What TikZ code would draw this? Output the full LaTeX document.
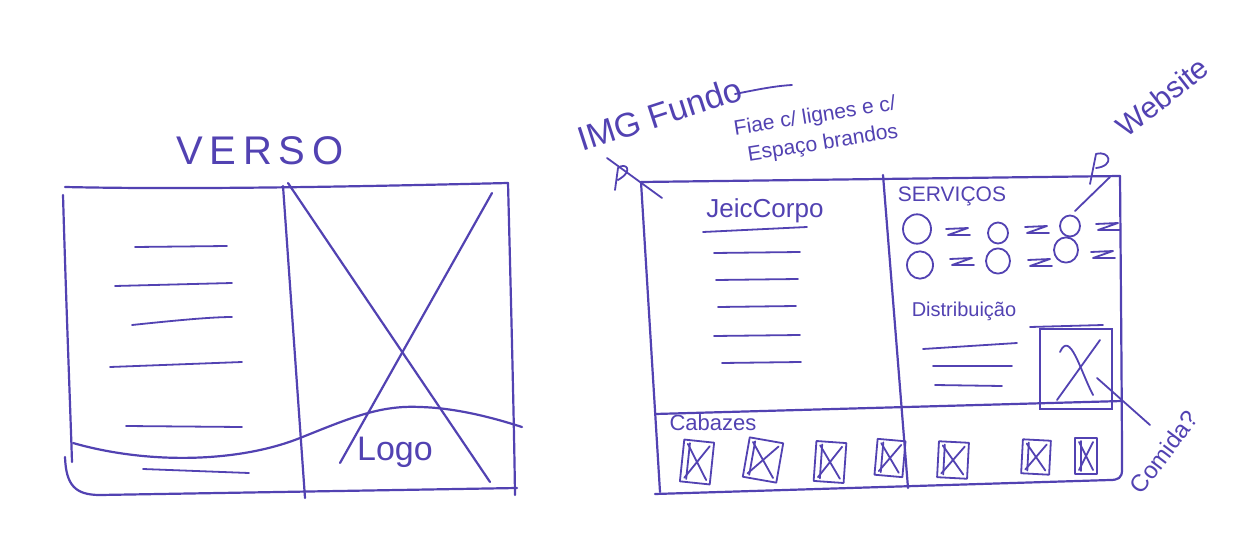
\documentclass[tikz,border=0pt]{standalone}
\usepackage{fontspec}
\setmainfont{Liberation Sans}
\definecolor{ink}{RGB}{82,66,178}
\begin{document}
\begin{tikzpicture}[x=1pt,y=-1pt,
  pen/.style={draw=ink,line width=2.2pt,line cap=round,line join=round},
  thin/.style={draw=ink,line width=1.8pt,line cap=round,line join=round},
  hand/.style={text=ink,inner sep=0pt,font=\fontsize{#1}{#1}\selectfont},
  hand/.default=22,
]
\fill[white] (0,0) rectangle (1246,556);
\useasboundingbox (0,0) rectangle (1246,556);

% ================= LEFT: VERSO =================
\node[hand=40] (verso) at (260,151) {V\,E\,R\,S\,O};
\coordinate (lTL) at (65,187);
\coordinate (lTR) at (508,183);
\draw[pen] (lTL) .. controls (200,190) and (380,186) .. (lTR);
\draw[pen] (63,195) .. controls (66,300) and (70,400) .. (72,462);
\draw[pen] (lTR) .. controls (511,300) and (514,420) .. (515,495);
\draw[pen] (65,457) .. controls (66,485) and (75,495) .. (100,495) -- (517,488);
\draw[pen] (283,186) -- (305,498);
% cross
\draw[pen] (288,183) -- (490,482);
\draw[pen] (492,193) -- (340,463);
% wave
\draw[pen] (73,443) .. controls (150,465) and (240,462) .. (300,438)
  .. controls (350,418) and (380,405) .. (420,407) .. controls (460,408) and (500,420) .. (522,427);
% text lines
\draw[thin] (135,247) -- (227,246);
\draw[thin] (115,286) -- (232,283);
\draw[thin] (132,325) .. controls (170,321) and (210,317) .. (232,317);
\draw[thin] (110,367) -- (242,362);
\draw[thin] (126,426) -- (242,427);
\draw[thin] (143,469) -- (249,473);
\node[hand=34] (logo) at (395,452) {Logo};

% ================= RIGHT =================
\node[hand=34,rotate=18] (img) at (660,114) {IMG Fundo};
\draw[thin] (735,94) .. controls (760,89) and (775,86) .. (792,85);
\node[hand=21,rotate=9] (fiae1) at (815,117) {Fiae c/ lignes e c/};
\node[hand=21,rotate=9] (fiae2) at (823,144) {Espaço brandos};
% pointer at top-left corner
\coordinate (pinA) at (607,158);
\coordinate (pinB) at (662,198);
\draw[thin] (pinA) -- (pinB);
\draw[thin] (615,190) -- (618,168) .. controls (625,162) and (635,170) .. (618,180);

% outer frame
\coordinate (rTL) at (641,182);
\coordinate (rTR) at (1120,176);
\draw[pen] (rTL) -- (rTR);
\draw[pen] (rTL) -- (660,492);
\draw[pen] (rTR) .. controls (1121,300) and (1122,420) .. (1122,470) .. controls (1122,478) and (1118,480) .. (1110,480) -- (655,494);
\draw[pen] (883,175) -- (908,488);
\draw[pen] (655,414) -- (1122,401);

% JeicCorpo column
\node[hand=26] (jeic) at (765,211) {JeicCorpo};
\draw[thin] (703,232) -- (807,227);
\draw[thin] (714,253) -- (800,252);
\draw[thin] (716,280) -- (798,279);
\draw[thin] (718,307) -- (796,306);
\draw[thin] (714,336) -- (800,335);
\draw[thin] (722,363) -- (801,362);

% Servicos
\node[hand=21] (serv) at (952,196) {SERVIÇOS};
\foreach \cx/\cy/\r in {917/229/14, 998/233/10, 1070/226/10, 920/265/13, 998/261/12, 1066/250/12}{
  \draw[thin] (\cx,\cy) ellipse ({\r} and {\r*1.05});
}
\foreach \zx/\zy in {958/232, 1037/230, 1108/227, 962/262, 1040/263, 1103/255}{
  \draw[thin] (\zx-12,\zy-3) -- (\zx+10,\zy-4) -- (\zx-10,\zy+3) -- (\zx+12,\zy+3);
}
% website
\node[hand=30,rotate=38] (web) at (1162,97) {Website};
\coordinate (webpin) at (1110,177);
\coordinate (webtgt) at (1075,211);
\draw[thin] (1090,184) -- (1096,154) .. controls (1110,150) and (1115,166) .. (1096,168);
\draw[thin] (webpin) -- (webtgt);

% Distribuicao
\node[hand=20] (dist) at (964,311) {Distribuição};
\draw[thin] (923,349) -- (1017,343);
\draw[thin] (933,366) -- (1012,366);
\draw[thin] (935,385) -- (1002,386);
\node[draw=ink,line width=2pt,minimum width=72pt,minimum height=80pt,inner sep=0pt] (dbox) at (1076,369) {};
\draw[thin] (1030,327) -- (1103,325);
\draw[thin] (1057,400) -- (1100,340);
\draw[thin] (1060,352) .. controls (1070,330) and (1080,370) .. (1093,395);
\node[hand=24,rotate=53] (comida) at (1164,452) {Comida?};
\coordinate (cmA) at (1097,378);
\coordinate (cmB) at (1150,425);
\draw[thin] (cmA) -- (cmB);

% Cabazes
\node[hand=22] (cab) at (713,423) {Cabazes};
\foreach \n/\bx/\by/\w/\h/\a in {1/697/462/30/42/-6, 2/763/460/34/40/-10, 3/830/462/30/40/-4, 4/890/458/28/36/-5, 5/953/460/30/36/-3, 6/1036/457/28/34/-3, 7/1086/456/22/36/0}{
  \begin{scope}[shift={(\bx,\by)},rotate=\a]
    \draw[thin] (-\w/2,-\h/2) rectangle (\w/2,\h/2);
    \draw[thin] (-\w/2+4,-\h/2+4) -- (\w/2-4,\h/2-4);
    \draw[thin] (\w/2-4,-\h/2+4) -- (-\w/2+4,\h/2-4);
    \draw[thin] (-\w/2+6,-\h/2+3) -- (-\w/2+6,\h/2-3);
  \end{scope}
}
\end{tikzpicture}
\end{document}
